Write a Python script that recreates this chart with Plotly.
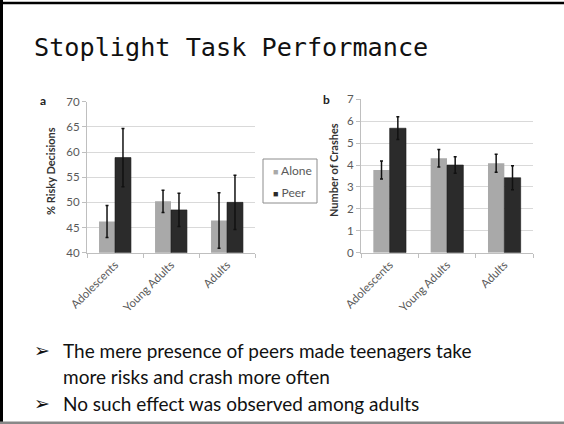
import plotly.graph_objects as go

# ---- data ----
groups = ["Adolescents", "Young Adults", "Adults"]
series_names = ["Alone", "Peer"]

risky_alone = [46.2, 50.2, 46.4]
risky_alone_err = [3.2, 2.2, 5.5]
risky_peer = [58.9, 48.5, 50.0]
risky_peer_err = [5.8, 3.3, 5.4]

crash_alone = [3.77, 4.31, 4.08]
crash_alone_err = [0.41, 0.40, 0.41]
crash_peer = [5.68, 4.00, 3.42]
crash_peer_err = [0.52, 0.38, 0.55]

risky_ticks = [40, 45, 50, 55, 60, 65, 70]
crash_ticks = [0, 1, 2, 3, 4, 5, 6, 7]

title_text = "Stoplight Task Performance"
bullets = [
    "The mere presence of peers made teenagers take",
    "more risks and crash more often",
    "No such effect was observed among adults",
]

# ---- styling ----
W, H = 564, 424
C_ALONE = "#a9a9a9"
C_PEER = "#2b2b2b"
TICK_FONT = dict(family="Lato", size=11.5, color="#595959")
AXIS_C = "#bfbfbf"
GRID_C = "#d9d9d9"


def px(x):
    return x / W


def py(y):
    return (H - y) / H


fig = go.Figure()

def add_bars(xa, ya, alone, alone_err, peer, peer_err):
    fig.add_trace(go.Bar(
        x=groups, y=alone, name=series_names[0], xaxis=xa, yaxis=ya,
        marker=dict(color=C_ALONE, line=dict(width=0)),
        error_y=dict(type="data", array=alone_err, color="#111111", thickness=1.5, width=1.5),
        showlegend=False,
    ))
    fig.add_trace(go.Bar(
        x=groups, y=peer, name=series_names[1], xaxis=xa, yaxis=ya,
        marker=dict(color=C_PEER, line=dict(width=0.6, color="#1a1a1a")),
        error_y=dict(type="data", array=peer_err, color="#111111", thickness=1.5, width=1.5),
        showlegend=False,
    ))

add_bars("x", "y", risky_alone, risky_alone_err, risky_peer, risky_peer_err)
add_bars("x2", "y2", crash_alone, crash_alone_err, crash_peer, crash_peer_err)

xaxis_common = dict(
    showgrid=False, showline=True, linecolor=AXIS_C, linewidth=1,
    ticks="outside", tickson="boundaries", ticklen=4, tickcolor=AXIS_C,
    tickangle=-45, tickfont=TICK_FONT, fixedrange=True, automargin=False,
)
yaxis_common = dict(
    showgrid=True, gridcolor=GRID_C, gridwidth=1,
    showline=True, linecolor=AXIS_C, linewidth=1,
    ticks="outside", ticklen=4, tickcolor=AXIS_C,
    tickfont=TICK_FONT, zeroline=False, fixedrange=True, automargin=False,
)

fig.update_layout(
    width=W, height=H,
    margin=dict(l=0, r=0, t=0, b=0, pad=0, autoexpand=False),
    paper_bgcolor="white", plot_bgcolor="white",
    barmode="group", bargap=0.43, bargroupgap=0,
    showlegend=False,
    xaxis=dict(domain=[px(87), px(255)], anchor="y", **xaxis_common),
    yaxis=dict(domain=[py(252.7), py(101.7)], anchor="x", range=[40, 70],
               tickvals=risky_ticks, **yaxis_common),
    xaxis2=dict(domain=[px(361), px(533)], anchor="y2", **xaxis_common),
    yaxis2=dict(domain=[py(252.7), py(99.3)], anchor="x2", range=[0, 7],
                tickvals=crash_ticks, **yaxis_common),
)

ann = []
ann.append(dict(text=title_text, x=px(32), y=py(48), xref="paper", yref="paper",
                xanchor="left", yanchor="middle", showarrow=False,
                font=dict(family="DejaVu Sans Mono", size=25.2, color="#111111")))
ann.append(dict(text="<b>a</b>", x=px(43), y=py(101), xref="paper", yref="paper",
                xanchor="center", yanchor="middle", showarrow=False,
                font=dict(family="Lato", size=12, color="#222222")))
ann.append(dict(text="<b>b</b>", x=px(326), y=py(100), xref="paper", yref="paper",
                xanchor="center", yanchor="middle", showarrow=False,
                font=dict(family="Lato", size=12, color="#222222")))
ann.append(dict(text="<b>% Risky Decisions</b>", x=px(50), y=py(171), xref="paper", yref="paper",
                xanchor="center", yanchor="middle", showarrow=False, textangle=-90,
                font=dict(family="Lato", size=11, color="#333333")))
ann.append(dict(text="<b>Number of Crashes</b>", x=px(333), y=py(170), xref="paper", yref="paper",
                xanchor="center", yanchor="middle", showarrow=False, textangle=-90,
                font=dict(family="Lato", size=11, color="#333333")))

# legend (manual, compact)
for name, col, yy in [(series_names[0], C_ALONE, 170), (series_names[1], C_PEER, 192)]:
    ann.append(dict(text=f"<span style='color:{col};font-size:9px'>■</span> {name}",
                    x=px(271), y=py(yy), xref="paper", yref="paper",
                    xanchor="left", yanchor="middle", showarrow=False,
                    font=dict(family="Lato", size=12, color="#595959")))

# bullets
bullet_font = dict(family="Lato", size=19, color="#111111")
for txt, yy, arrow in [(bullets[0], 350, True), (bullets[1], 376, False), (bullets[2], 403, True)]:
    if arrow:
        ann.append(dict(text="➢", x=px(32), y=py(yy), xref="paper", yref="paper",
                        xanchor="left", yanchor="middle", showarrow=False,
                        font=dict(family="DejaVu Sans", size=19, color="#111111")))
    ann.append(dict(text=txt, x=px(61), y=py(yy), xref="paper", yref="paper",
                    xanchor="left", yanchor="middle", showarrow=False, font=bullet_font))

fig.update_layout(annotations=ann)

shapes = [
    dict(type="rect", xref="paper", yref="paper", x0=px(263), x1=px(317), y0=py(203), y1=py(159),
         line=dict(color="#8c8c8c", width=1), fillcolor="rgba(0,0,0,0)"),
    dict(type="line", xref="paper", yref="paper", x0=px(1.5), x1=px(1.5), y0=0, y1=1,
         line=dict(color="#000000", width=3)),
    dict(type="line", xref="paper", yref="paper", x0=0, x1=1, y0=py(3), y1=py(3),
         line=dict(color="#000000", width=2.5)),
    dict(type="line", xref="paper", yref="paper", x0=0, x1=1, y0=py(422.8), y1=py(422.8),
         line=dict(color="#888888", width=2.5)),
]
fig.update_layout(shapes=shapes)

fig.write_html("out.html", config={"displayModeBar": False},
               post_script="document.body.style.margin='0';document.body.style.overflow='hidden';")
